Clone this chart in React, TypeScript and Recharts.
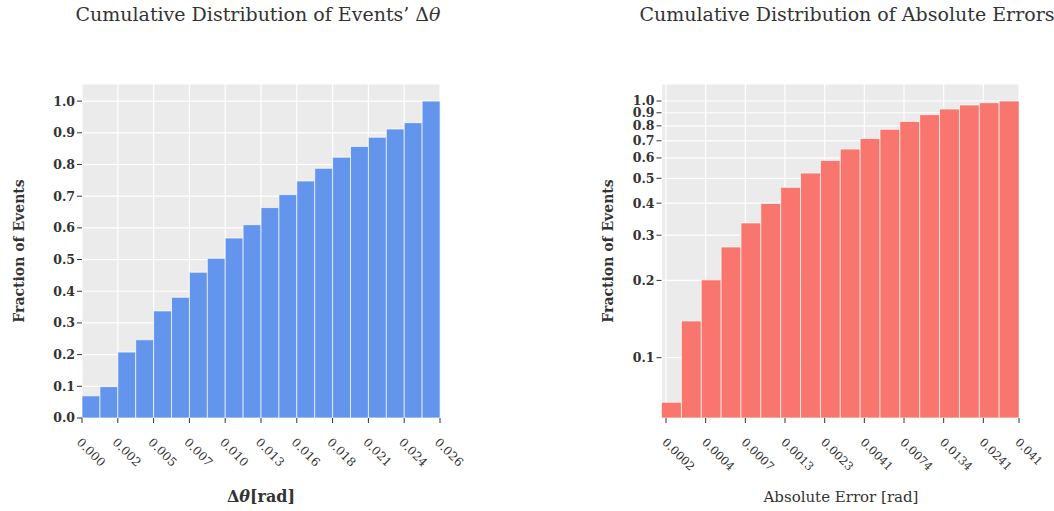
import { BarChart, Bar, XAxis, YAxis, CartesianGrid } from "recharts"

// Δθ histogram: 20 equal-width bins, cumulative fraction per bin
const thetaEdgeLabels = ["0.000", "0.002", "0.005", "0.007", "0.010", "0.013", "0.016", "0.018", "0.021", "0.024", "0.026"]
const thetaCdf = [0.07, 0.099, 0.208, 0.247, 0.338, 0.381, 0.46, 0.504, 0.568, 0.61, 0.664, 0.705, 0.748, 0.788, 0.823, 0.857, 0.886, 0.912, 0.932, 1.0]

// absolute error histogram: 18 log-spaced bins (geometric centres, rad)
const errorBinCenters = [0.00023187, 0.00031165, 0.00041888, 0.000563, 0.00075675, 0.0010172, 0.0013672, 0.0018377, 0.0024701, 0.0033201, 0.0044626, 0.0059983, 0.0080625, 0.010835, 0.014563, 0.019575, 0.026311, 0.035366]
const errorCdf = [0.067, 0.139, 0.201, 0.27, 0.335, 0.399, 0.461, 0.524, 0.587, 0.65, 0.715, 0.776, 0.833, 0.885, 0.931, 0.965, 0.985, 1.0]
const errorTicks = [0.000214, 0.000386, 0.000697, 0.001258, 0.002271, 0.004099, 0.0074, 0.013356, 0.024106, 0.041]

const fractionTicks = [0, 0.1, 0.2, 0.3, 0.4, 0.5, 0.6, 0.7, 0.8, 0.9, 1.0]
const logFractionTicks = [0.1, 0.2, 0.3, 0.4, 0.5, 0.6, 0.7, 0.8, 0.9, 1.0]

const FONT = "'DejaVu Serif', serif"
const INK = "#333333"
const PANEL = "#EBEBEB"
const BLUE = "#6495ED"
const SALMON = "#F8766D"

const thetaData = thetaCdf.map((cdf, i) => ({ bin: i + 0.5, cdf }))
const errorData = errorCdf.map((cdf, i) => ({ err: errorBinCenters[i], cdf }))

function SlantTick({ x, y, payload, format, fontSize, dx }: any) {
  return (
    <g transform={`translate(${x + dx},${y + 18})`}>
      <text transform="rotate(45)" fontSize={fontSize} fontFamily={FONT} fill={INK}>
        {format(payload.value)}
      </text>
    </g>
  )
}

const yTickStyle = { fill: INK, fontSize: 12.5, fontWeight: 700, fontFamily: FONT }

export default function App() {
  return (
    <div style={{ position: "absolute", left: 0, top: 0, width: 1054, height: 511, background: "#fff" }}>
      <div style={{ position: "absolute", left: 0, top: 0 }}>
        <BarChart
          width={470}
          height={511}
          data={thetaData}
          margin={{ top: 84, right: 30, bottom: 33, left: 32 }}
          barCategoryGap={0}
          barGap={0}
        >
          <CartesianGrid fill={PANEL} stroke="#ffffff" strokeWidth={1.2} />
          <XAxis
            type="number"
            dataKey="bin"
            domain={[0, 20]}
            ticks={thetaEdgeLabels.map((_, i) => i * 2)}
            interval={0}
            height={60}
            axisLine={false}
            tickLine={{ stroke: INK }}
            tickSize={5}
            tick={<SlantTick fontSize={12} dx={-6} format={(v: number) => thetaEdgeLabels[Math.round(v / 2)]} />}
          />
          <YAxis
            type="number"
            domain={[0, 1.054]}
            ticks={fractionTicks}
            interval={0}
            width={50}
            axisLine={false}
            tickLine={{ stroke: INK }}
            tickSize={5}
            tick={yTickStyle}
            tickFormatter={(v: number) => v.toFixed(1)}
          />
          <Bar dataKey="cdf" fill={BLUE} stroke="#ffffff" strokeOpacity={0.7} strokeWidth={1} isAnimationActive={false} />
        </BarChart>
      </div>

      <div style={{ position: "absolute", left: 540, top: 0 }}>
        <BarChart
          width={514}
          height={511}
          data={errorData}
          margin={{ top: 84, right: 35, bottom: 33, left: 71.5 }}
          barCategoryGap={0}
          barGap={0}
        >
          <CartesianGrid fill={PANEL} stroke="#ffffff" strokeWidth={1.2} />
          <XAxis
            type="number"
            scale="log"
            dataKey="err"
            domain={[0.0002, 0.041]}
            allowDataOverflow
            ticks={errorTicks}
            interval={0}
            height={60}
            axisLine={false}
            tickLine={{ stroke: INK }}
            tickSize={5}
            tick={<SlantTick fontSize={11.5} dx={-4.5} format={(v: number) => v.toFixed(4).replace(/0+$/, "")} />}
          />
          <YAxis
            type="number"
            scale="log"
            domain={[0.0582, 1.165]}
            allowDataOverflow
            ticks={logFractionTicks}
            interval={0}
            width={50}
            axisLine={false}
            tickLine={{ stroke: INK }}
            tickSize={5}
            tick={yTickStyle}
            tickFormatter={(v: number) => v.toFixed(1)}
          />
          <Bar dataKey="cdf" fill={SALMON} stroke="#ffffff" strokeOpacity={0.7} strokeWidth={1} isAnimationActive={false} />
        </BarChart>
      </div>

      <svg width={1054} height={511} style={{ position: "absolute", left: 0, top: 0, pointerEvents: "none" }} fontFamily={FONT} fill={INK}>
        <text x={258} y={21} fontSize={19} textAnchor="middle">
          Cumulative Distribution of Events’ Δ<tspan fontStyle="italic">θ</tspan>
        </text>
        <text x={847} y={21} fontSize={19} textAnchor="middle">
          Cumulative Distribution of Absolute Errors
        </text>
        <text transform="translate(24,251) rotate(-90)" fontSize={14} fontWeight={700} textAnchor="middle">
          Fraction of Events
        </text>
        <text transform="translate(613,251) rotate(-90)" fontSize={14} fontWeight={700} textAnchor="middle">
          Fraction of Events
        </text>
        <text x={261} y={502} fontSize={16} fontWeight={700} textAnchor="middle">
          Δ<tspan fontStyle="italic">θ</tspan>[rad]
        </text>
        <text x={841} y={502} fontSize={15} textAnchor="middle">
          Absolute Error [rad]
        </text>
      </svg>
    </div>
  )
}
